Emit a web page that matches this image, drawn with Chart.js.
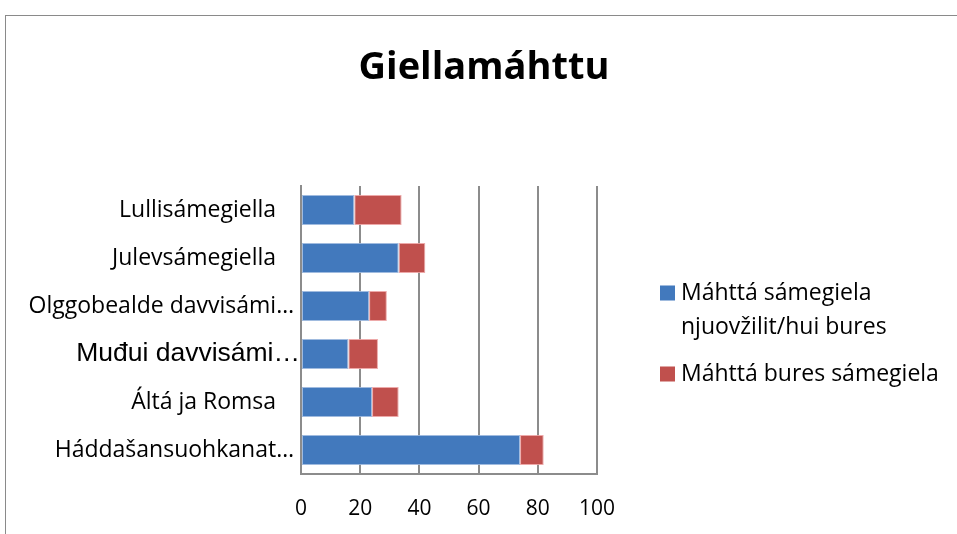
<!DOCTYPE html>
<html>
<head>
<meta charset="utf-8">
<script src="https://cdn.jsdelivr.net/npm/chart.js@4"></script>
<style>
  html, body { margin: 0; padding: 0; background: #fff; overflow: hidden; }
  #wrap { position: relative; width: 957px; height: 534px; }
  #frame { position: absolute; left: 5px; top: 15px; width: 1000px; height: 600px;
           border-left: 1px solid #8a8a8a; border-top: 1px solid #8a8a8a; box-sizing: border-box; }
  canvas { position: absolute; left: 0; top: 0; }
</style>
</head>
<body>
<div id="wrap">
  <div id="frame"></div>
  <canvas id="c" width="957" height="534"></canvas>
</div>
<script>
const title = "Giellamáhttu";
const categories = [
  "Lullisámegiella",
  "Julevsámegiella",
  "Olggobealde davvisámi…",
  "Muđui davvisámi…",
  "Áltá ja Romsa",
  "Háddašansuohkanat…"
];
const seriesNames = [
  ["Máhttá sámegiela", "njuovžilit/hui bures"],
  ["Máhttá bures sámegiela"]
];
const fluentValues = [18, 33, 23, 16, 24, 74];
const wellValues = [16, 9, 6, 10, 9, 8];
const xTicks = [0, 20, 40, 60, 80, 100];

const BLUE = "#4279BD";
const RED = "#C0504D";
const FONT = "'Open Sans', Lato, sans-serif";

const titleLegendPlugin = {
  id: "titleLegend",
  afterDraw(chart) {
    const ctx = chart.ctx;
    ctx.save();
    // title
    ctx.font = "bold 38px " + FONT;
    ctx.textAlign = "center";
    ctx.textBaseline = "alphabetic";
    ctx.fillStyle = "#000";
    ctx.fillText(title, 484, 79);
    // legend
    ctx.textAlign = "left";
    ctx.font = "23px " + FONT;
    ctx.textBaseline = "middle";
    const items = [
      { color: BLUE, lines: seriesNames[0], y: 293 },
      { color: RED, lines: seriesNames[1], y: 374 }
    ];
    items.forEach(it => {
      ctx.fillStyle = it.color;
      ctx.fillRect(660, it.y - 7.5, 15, 15);
      ctx.fillStyle = "#000";
      it.lines.forEach((ln, i) => ctx.fillText(ln, 681, it.y + i * 34));
    });
    ctx.restore();
  }
};

new Chart(document.getElementById("c"), {
  type: "bar",
  data: {
    labels: categories,
    datasets: [
      { label: seriesNames[0].join(" "), data: fluentValues, backgroundColor: BLUE,
        borderColor: "rgba(150,180,220,0.9)", borderWidth: 1, borderSkipped: false,
        categoryPercentage: 1, barPercentage: 0.63 },
      { label: seriesNames[1].join(" "), data: wellValues, backgroundColor: RED,
        borderColor: "rgba(235,160,160,0.9)", borderWidth: 1, borderSkipped: false,
        categoryPercentage: 1, barPercentage: 0.63 }
    ]
  },
  options: {
    indexAxis: "y",
    responsive: false,
    animation: false,
    layout: { padding: { left: 0, right: 360, top: 186, bottom: 0 } },
    plugins: {
      legend: { display: false },
      tooltip: { enabled: false },
      title: { display: false }
    },
    scales: {
      x: {
        stacked: true, min: 0, max: 100,
        afterBuildTicks(scale) { scale.ticks = xTicks.map(v => ({ value: v })); },
        afterFit(scale) { scale.height = 60; },
        grid: { color: "#8c8c8c", lineWidth: 2, drawTicks: false },
        border: { color: "#8c8c8c", width: 2 },
        ticks: { color: "#000", padding: 22, font: { family: FONT, size: 21 } }
      },
      y: {
        stacked: true,
        afterFit(scale) { scale.width = 301; },
        grid: { display: false, drawTicks: false },
        border: { color: "#8c8c8c", width: 2 },
        ticks: {
          color: "#000", padding: 1, autoSkip: false,
          callback(value, index) {
            const s = categories[index];
            if (index === 3) return s;
            return s.endsWith("…") ? s + " " : s + "    ";
          },
          font: (c) => c.index === 3
            ? { family: "'Liberation Sans', Arial, sans-serif", size: 26.5 }
            : { family: FONT, size: 23 }
        }
      }
    }
  },
  plugins: [titleLegendPlugin]
});
</script>
</body>
</html>
